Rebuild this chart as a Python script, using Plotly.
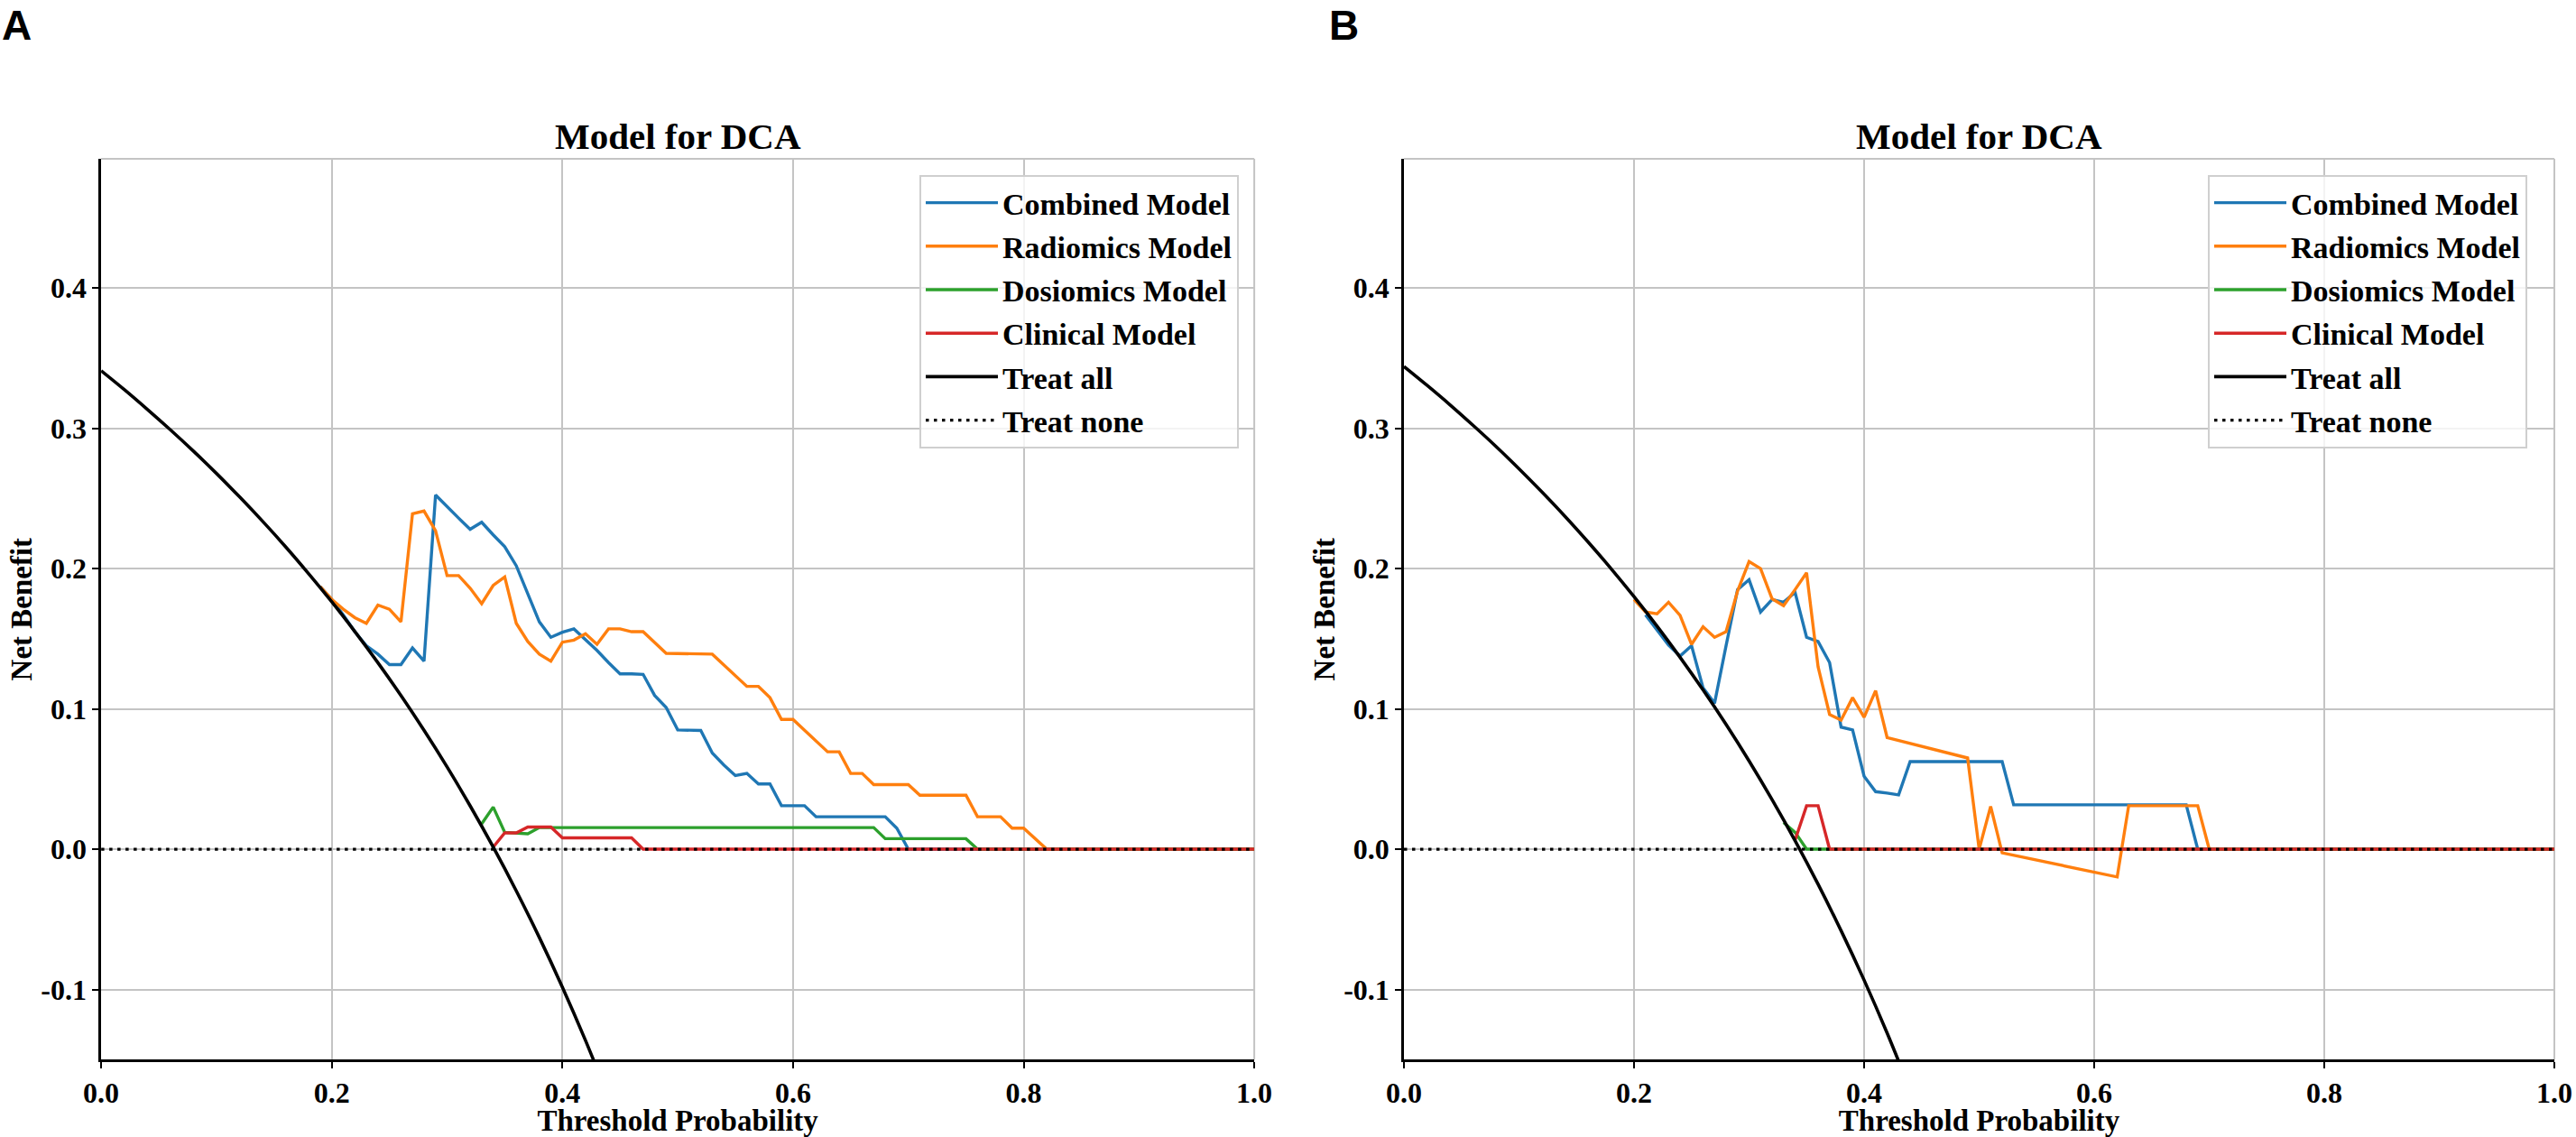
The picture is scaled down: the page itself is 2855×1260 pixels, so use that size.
import plotly.graph_objects as go

# ---------------- data ----------------
x_tick_vals = [0.0, 0.2, 0.4, 0.6, 0.8, 1.0]
x_tick_text = ["0.0", "0.2", "0.4", "0.6", "0.8", "1.0"]
y_tick_vals = [-0.1, 0.0, 0.1, 0.2, 0.3, 0.4]
y_tick_text = ["-0.1", "0.0", "0.1", "0.2", "0.3", "0.4"]

series_names = ["Combined Model", "Radiomics Model", "Dosiomics Model",
                "Clinical Model", "Treat all", "Treat none"]

# Panel A
a_comb_x = [0.19, 0.20, 0.21, 0.22, 0.23, 0.24, 0.25, 0.26, 0.27, 0.28, 0.29, 0.30,
            0.31, 0.32, 0.33, 0.34, 0.35, 0.36, 0.37, 0.38, 0.39, 0.40, 0.41, 0.42,
            0.43, 0.44, 0.45, 0.46, 0.47, 0.48, 0.49, 0.50, 0.51, 0.52, 0.53, 0.54,
            0.55, 0.56, 0.57, 0.58, 0.59, 0.60, 0.61, 0.62, 0.68, 0.69, 0.70, 1.00]
a_comb_y = [0.187, 0.178, 0.167, 0.155, 0.145, 0.139, 0.1315, 0.1315, 0.1434, 0.134,
            0.2524, 0.244, 0.236, 0.228, 0.233, 0.224, 0.2156, 0.202, 0.182, 0.162,
            0.151, 0.1546, 0.157, 0.1496, 0.1417, 0.133, 0.125, 0.125, 0.1246, 0.1096,
            0.101, 0.085, 0.085, 0.0846, 0.0685, 0.060, 0.0525, 0.054, 0.0465, 0.0465,
            0.031, 0.031, 0.031, 0.0231, 0.0231, 0.015, 0.0, 0.0]

a_radi_x = [0.19, 0.20, 0.21, 0.22, 0.23, 0.24, 0.25, 0.26, 0.27, 0.28, 0.29, 0.30,
            0.31, 0.32, 0.33, 0.34, 0.35, 0.36, 0.37, 0.38, 0.39, 0.40, 0.41, 0.42,
            0.43, 0.44, 0.45, 0.46, 0.47, 0.48, 0.49, 0.53, 0.54, 0.55, 0.56, 0.57,
            0.58, 0.59, 0.60, 0.61, 0.62, 0.63, 0.64, 0.65, 0.66, 0.67, 0.70, 0.71,
            0.75, 0.76, 0.78, 0.79, 0.80, 0.81, 0.82, 1.00]
a_radi_y = [0.187, 0.178, 0.171, 0.165, 0.161, 0.174, 0.171, 0.162, 0.239, 0.241,
            0.227, 0.195, 0.195, 0.186, 0.175, 0.188, 0.194, 0.161, 0.148, 0.139,
            0.134, 0.1475, 0.149, 0.1535, 0.146, 0.157, 0.157, 0.155, 0.155, 0.147,
            0.1396, 0.139, 0.1314, 0.1237, 0.116, 0.116, 0.108, 0.0925, 0.0925, 0.0848,
            0.077, 0.0694, 0.0694, 0.054, 0.054, 0.046, 0.046, 0.0385, 0.0385, 0.0231,
            0.0231, 0.015, 0.015, 0.0075, 0.0, 0.0]

a_dosi_x = [0.33, 0.34, 0.35, 0.37, 0.38, 0.67, 0.68, 0.75, 0.76, 1.00]
a_dosi_y = [0.018, 0.030, 0.012, 0.011, 0.0154, 0.0154, 0.0075, 0.0075, 0.0, 0.0]

a_clin_x = [0.34, 0.35, 0.36, 0.37, 0.39, 0.40, 0.46, 0.47, 1.00]
a_clin_y = [0.0015, 0.0116, 0.0116, 0.0158, 0.0158, 0.0081, 0.0081, 0.0, 0.0]

treat_all_x = [0.00, 0.02, 0.04, 0.06, 0.08, 0.10, 0.12, 0.14, 0.16, 0.18, 0.20, 0.22,
               0.24, 0.26, 0.28, 0.30, 0.32, 0.34, 0.36, 0.38, 0.40, 0.42, 0.44]
a_treat_all_y = [0.341, 0.3276, 0.3135, 0.2989, 0.2837, 0.2678, 0.2511, 0.2337, 0.2155,
                 0.1963, 0.1763, 0.1551, 0.1329, 0.1095, 0.0847, 0.0586, 0.0309, 0.0015,
                 -0.0297, -0.0629, -0.0983, -0.1362, -0.1768]

treat_none_x = [0.0, 1.0]
treat_none_y = [0.0, 0.0]

# Panel B
b_comb_x = [0.21, 0.22, 0.23, 0.24, 0.25, 0.26, 0.27, 0.28, 0.29, 0.30, 0.31, 0.32,
            0.33, 0.34, 0.35, 0.36, 0.37, 0.38, 0.39, 0.40, 0.41, 0.42, 0.43, 0.44,
            0.52, 0.53, 0.68, 0.69, 1.00]
b_comb_y = [0.167, 0.156, 0.1455, 0.1376, 0.145, 0.115, 0.104, 0.145, 0.185, 0.192,
            0.169, 0.178, 0.176, 0.183, 0.151, 0.148, 0.133, 0.087, 0.085, 0.052,
            0.041, 0.040, 0.0387, 0.0624, 0.0624, 0.0316, 0.0316, 0.0, 0.0]

b_radi_x = [0.20, 0.21, 0.22, 0.23, 0.24, 0.25, 0.26, 0.27, 0.28, 0.29, 0.30, 0.31,
            0.32, 0.33, 0.34, 0.35, 0.36, 0.37, 0.38, 0.39, 0.40, 0.41, 0.42, 0.49,
            0.50, 0.51, 0.52, 0.62, 0.63, 0.69, 0.70, 1.00]
b_radi_y = [0.178, 0.169, 0.1677, 0.176, 0.1667, 0.146, 0.1585, 0.151, 0.155, 0.184,
            0.205, 0.200, 0.1785, 0.1735, 0.185, 0.197, 0.130, 0.096, 0.092, 0.108,
            0.094, 0.113, 0.0796, 0.065, 0.0, 0.0305, -0.0026, -0.0198, 0.031, 0.031,
            0.0, 0.0]

b_dosi_x = [0.33, 0.34, 0.35, 1.00]
b_dosi_y = [0.019, 0.012, 0.0, 0.0]

b_clin_x = [0.34, 0.35, 0.36, 0.37, 1.00]
b_clin_y = [0.0065, 0.031, 0.031, 0.0, 0.0]

b_treat_all_y = [0.344, 0.3306, 0.3167, 0.3021, 0.2870, 0.2711, 0.2545, 0.2372, 0.2190,
                 0.2000, 0.1800, 0.1590, 0.1368, 0.1135, 0.0889, 0.0629, 0.0353, 0.0061,
                 -0.0250, -0.0581, -0.0933, -0.1310, -0.1714]

# ---------------- styling ----------------
W, H = 2855, 1260
SERIF = "Liberation Serif"
SANS = "Liberation Sans"
colors = ["#1f77b4", "#ff7f0e", "#2ca02c", "#d62728", "black", "black"]
GRID = "#c4c4c4"

fig = go.Figure()

panels = [
    ("x", "y", "legend", "a",
     [(a_comb_x, a_comb_y), (a_radi_x, a_radi_y), (a_dosi_x, a_dosi_y),
      (a_clin_x, a_clin_y), (treat_all_x, a_treat_all_y), (treat_none_x, treat_none_y)]),
    ("x2", "y2", "legend2", "b",
     [(b_comb_x, b_comb_y), (b_radi_x, b_radi_y), (b_dosi_x, b_dosi_y),
      (b_clin_x, b_clin_y), (treat_all_x, b_treat_all_y), (treat_none_x, treat_none_y)]),
]

for xa, ya, lg, tag, data in panels:
    for i, (name, (xs, ys)) in enumerate(zip(series_names, data)):
        if name == "Treat none":
            line = dict(color="black", width=3.2, dash="3.5px,5.5px")
        elif name == "Treat all":
            line = dict(color="black", width=3.6, shape="spline", smoothing=0.8)
        else:
            line = dict(color=colors[i], width=3.4)
        fig.add_trace(go.Scatter(
            x=xs, y=ys, mode="lines", name=name, line=line,
            xaxis=xa, yaxis=ya, legend=lg, legendgroup=f"{tag}{i}",
            hoverinfo="skip"))

x_dom_a = [112.1 / W, 1390.1 / W]
x_dom_b = [1556.0 / W, 2831.0 / W]
y_dom = [(H - 1174.3) / H, (H - 176.0) / H]

def xaxis_style(domain, anchor):
    return dict(domain=domain, anchor=anchor, range=[0, 1.0], automargin=False,
                tickvals=x_tick_vals, ticktext=x_tick_text,
                showgrid=True, gridcolor=GRID, gridwidth=2,
                showline=True, linecolor="black", linewidth=2.5,
                ticks="outside", ticklen=7, tickwidth=2, tickcolor="black",
                zeroline=False,
                tickfont=dict(family=SERIF, size=32, color="black", weight="bold"),
                title=dict(text="Threshold Probability", standoff=6,
                           font=dict(family=SERIF, size=33, color="black", weight="bold")))

def yaxis_style(domain, anchor):
    return dict(domain=domain, anchor=anchor, range=[-0.15, 0.492], automargin=False,
                tickvals=y_tick_vals, ticktext=y_tick_text,
                showgrid=True, gridcolor=GRID, gridwidth=2,
                showline=True, linecolor="black", linewidth=2.5,
                ticks="outside", ticklen=7, tickwidth=2, tickcolor="black",
                zeroline=False,
                tickfont=dict(family=SERIF, size=32, color="black", weight="bold"),
                title=dict(text="Net Benefit", standoff=0,
                           font=dict(family=SERIF, size=33, color="black", weight="bold")))

legend_common = dict(
    xanchor="right", yanchor="top",
    bgcolor="rgba(255,255,255,0.8)", bordercolor="#cfcfcf", borderwidth=2,
    font=dict(family=SERIF, size=34, color="black", weight="bold"),
    traceorder="grouped", tracegroupgap=1, itemwidth=80,
    entrywidth=290, entrywidthmode="pixels",
    itemclick=False, itemdoubleclick=False,
)

fig.update_layout(
    width=W, height=H,
    margin=dict(l=0, r=0, t=0, b=0),
    paper_bgcolor="white", plot_bgcolor="white",
    xaxis=xaxis_style(x_dom_a, "y"),
    yaxis=yaxis_style(y_dom, "x"),
    xaxis2=xaxis_style(x_dom_b, "y2"),
    yaxis2=yaxis_style(y_dom, "x2"),
    legend=dict(x=1373 / W, y=(H - 194) / H, **legend_common),
    legend2=dict(x=2801 / W, y=(H - 194) / H, **legend_common),
    showlegend=True,
)

# frame top / right in grid colour (matplotlib-like)
for xr, yr in [("x domain", "y domain"), ("x2 domain", "y2 domain")]:
    fig.add_shape(type="line", xref=xr, yref=yr, x0=0, x1=1, y0=1, y1=1,
                  line=dict(color=GRID, width=2), layer="below")
    fig.add_shape(type="line", xref=xr, yref=yr, x0=1, x1=1, y0=0, y1=1,
                  line=dict(color=GRID, width=2), layer="below")

# titles
for xr, yr in [("x domain", "y domain"), ("x2 domain", "y2 domain")]:
    fig.add_annotation(text="Model for DCA", xref=xr, yref=yr, x=0.5, y=1,
                       xanchor="center", yanchor="bottom", yshift=0, showarrow=False,
                       font=dict(family=SERIF, size=41, color="black", weight="bold"))

# panel letters
for letter, px in [("A", 0.0), ("B", 1471 / W)]:
    fig.add_annotation(text=letter, xref="paper", yref="paper", x=px, y=1,
                       xanchor="left", yanchor="top", showarrow=False,
                       font=dict(family=SANS, size=46, color="black", weight="bold"))

fig.write_html("out.html",
               config={"displayModeBar": False},
               post_script="document.body.style.margin='0';document.body.style.overflow='hidden';")
